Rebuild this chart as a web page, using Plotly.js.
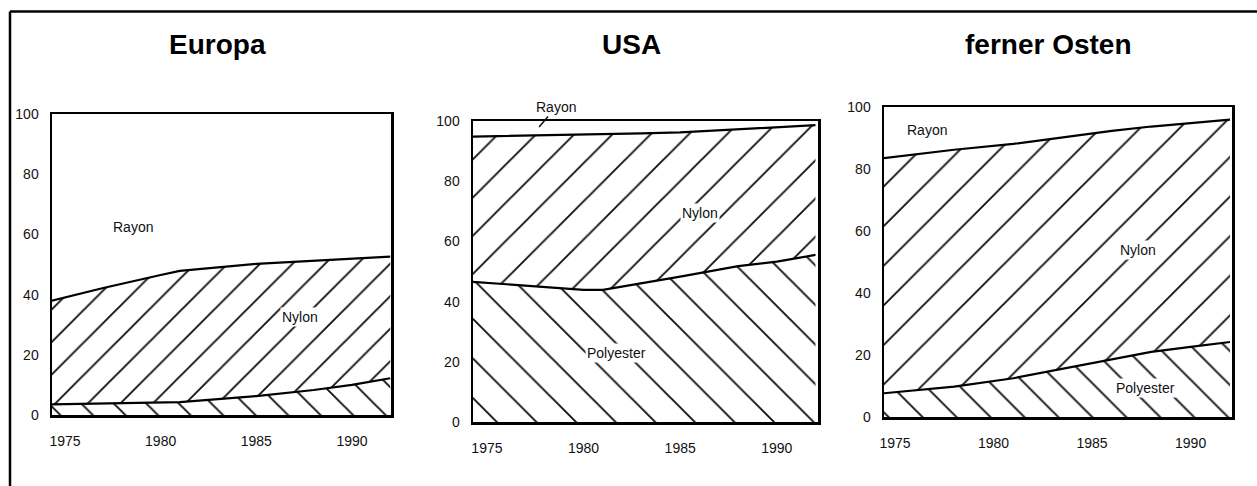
<!DOCTYPE html>
<html><head><meta charset="utf-8">
<script src="https://cdn.plot.ly/plotly-3.0.1.min.js"></script>
<style>html,body{margin:0;padding:0;background:#fff;} #chart{width:1257px;height:486px;}</style>
</head><body><div id="chart"></div>
<script>
// ---- data (shares in %) ----
const panelTitles = ['Europa', 'USA', 'ferner Osten'];
const fibreNames = ['Polyester', 'Nylon', 'Rayon'];
const yearTicks = [1975, 1980, 1985, 1990];
const shareTicks = [0, 20, 40, 60, 80, 100];

const euYears = [1974, 1977, 1980, 1981, 1985, 1988, 1990, 1992];
const euPolyester = [3.5, 3.8, 4.0, 4.3, 6.3, 8.3, 10.0, 12.2];
const euNylon = [34.0, 38.4, 42.5, 43.6, 43.9, 42.9, 41.8, 40.4];
const euRayon = [62.5, 57.8, 53.5, 52.1, 49.8, 48.8, 48.2, 47.4];

const usYears = [1974, 1978, 1980, 1981, 1983, 1985, 1988, 1990, 1992];
const usPolyester = [46.7, 44.8, 43.9, 43.9, 46.0, 48.3, 51.8, 53.3, 55.5];
const usNylon = [48.1, 50.4, 51.6, 51.7, 49.9, 47.9, 45.4, 44.6, 43.1];
const usRayon = [5.2, 4.8, 4.5, 4.4, 4.1, 3.8, 2.8, 2.1, 1.4];

const feYears = [1974, 1978, 1981, 1985, 1986, 1988, 1990, 1992];
const fePolyester = [7.4, 9.8, 12.5, 17.3, 18.6, 21.0, 22.6, 24.2];
const feNylon = [75.8, 76.4, 75.6, 74.3, 73.7, 72.7, 72.3, 71.7];
const feRayon = [16.8, 13.8, 11.9, 8.4, 7.7, 6.3, 5.1, 4.1];

// ---- layout helpers ----
const W = 1257, H = 486;
const FONT = 'Liberation Sans, Arial, Helvetica, sans-serif';
const px = v => v / W;
const py = v => 1 - v / H;

const panels = [
  {years: euYears, series: [euPolyester, euNylon, euRayon], box: [52, 391, 114, 415], xr: [1974.32, 1992.04],
   hatch: [{shape: '\\', size: 23}, {shape: '/', size: 23}]},
  {years: usYears, series: [usPolyester, usNylon, usRayon], box: [473, 818, 121, 422], xr: [1974.28, 1992.13],
   hatch: [{shape: '\\', size: 28}, {shape: '/', size: 27}]},
  {years: feYears, series: [fePolyester, feNylon, feRayon], box: [884, 1232, 107, 417], xr: [1974.44, 1992.1],
   hatch: [{shape: '\\', size: 24}, {shape: '/', size: 28}]}
];

const traces = [];
const layout = {
  width: W, height: H, margin: {l: 0, r: 0, t: 0, b: 0},
  paper_bgcolor: 'white', plot_bgcolor: 'white', showlegend: false,
  font: {family: FONT, color: '#111'},
  annotations: [], shapes: []
};

panels.forEach((p, i) => {
  const n = i === 0 ? '' : String(i + 1);
  const xa = 'x' + n, ya = 'y' + n;
  fibreNames.forEach((name, k) => {
    const t = {
      type: 'scatter', mode: 'lines', name: name, x: p.years, y: p.series[k],
      xaxis: xa, yaxis: ya, stackgroup: 'g' + i,
      line: {color: 'black', width: k === 2 ? 0 : 2.2, shape: 'linear'},
      fillcolor: 'white', hoverinfo: 'skip'
    };
    if (k < 2) {
      t.fillpattern = {shape: p.hatch[k].shape, size: p.hatch[k].size, solidity: 1.9 / p.hatch[k].size,
                       fgcolor: '#111', bgcolor: 'white', fillmode: 'replace'};
    }
    traces.push(t);
  });
  const [l, r, top, bot] = p.box;
  layout['xaxis' + n] = {
    domain: [px(l), px(r)], range: p.xr, anchor: ya, tickvals: yearTicks,
    ticks: 'outside', ticklen: 12, tickcolor: 'rgba(0,0,0,0)',
    showline: true, mirror: true, linewidth: 2.5, linecolor: 'black',
    showgrid: false, zeroline: false, fixedrange: true,
    tickfont: {family: FONT, size: 14, color: '#111'}
  };
  layout['yaxis' + n] = {
    domain: [py(bot), py(top)], range: [0, 100], anchor: xa, tickvals: shareTicks,
    ticks: 'outside', ticklen: 8, tickcolor: 'rgba(0,0,0,0)',
    showline: true, mirror: true, linewidth: 2.5, linecolor: 'black',
    showgrid: false, zeroline: false, fixedrange: true,
    tickfont: {family: FONT, size: 14, color: '#111'}
  };
  layout.annotations.push({
    xref: 'paper', yref: 'paper', x: px([217, 631, 1048][i]), y: py(44.5),
    text: '<b>' + panelTitles[i] + '</b>', showarrow: false,
    font: {family: FONT, size: 28, color: 'black'}, xanchor: 'center', yanchor: 'middle'
  });
});

function lab(text, xr, yr, x, y, extra) {
  return Object.assign({xref: xr, yref: yr, x: x, y: y, text: text, showarrow: false,
    font: {family: FONT, size: 14, color: '#111'}}, extra || {});
}
const bg = {bgcolor: 'white', borderpad: 1};
layout.annotations.push(
  lab('Rayon', 'x', 'y', 1978.55, 62.5),
  lab('Nylon', 'x', 'y', 1987.3, 32.6, bg),
  lab('Poly', 'x', 'y', 1992.35, 3.3, {xanchor: 'left'}),
  lab('%', 'x2', 'y2', 1973.6, 104.3, {font: {family: FONT, size: 11, color: '#111'}}),
  lab('Rayon', 'x2', 'y2', 1977.7, 98, {showarrow: true, arrowhead: 0, arrowwidth: 1.5, arrowcolor: '#111',
      ax: 17, ay: -20, standoff: 0, startstandoff: 0}),
  lab('Nylon', 'x2', 'y2', 1986.0, 69.4, bg),
  lab('Polyester', 'x2', 'y2', 1981.7, 22.9, bg),
  lab('Rayon', 'x3', 'y3', 1976.6, 92.5),
  lab('Nylon', 'x3', 'y3', 1987.35, 53.8, bg),
  lab('Polyester', 'x3', 'y3', 1987.7, 9.3, bg)
);

// outer frame (top and left edge of the figure box)
layout.shapes.push(
  {type: 'line', xref: 'paper', yref: 'paper', x0: px(10), x1: 1.01, y0: py(11.5), y1: py(11.5),
   line: {color: 'black', width: 2.5}},
  {type: 'line', xref: 'paper', yref: 'paper', x0: px(10), x1: px(10), y0: -0.01, y1: py(11.5),
   line: {color: 'black', width: 2.5}}
);

Plotly.newPlot('chart', traces, layout, {staticPlot: true, displayModeBar: false});
</script>
</body></html>
